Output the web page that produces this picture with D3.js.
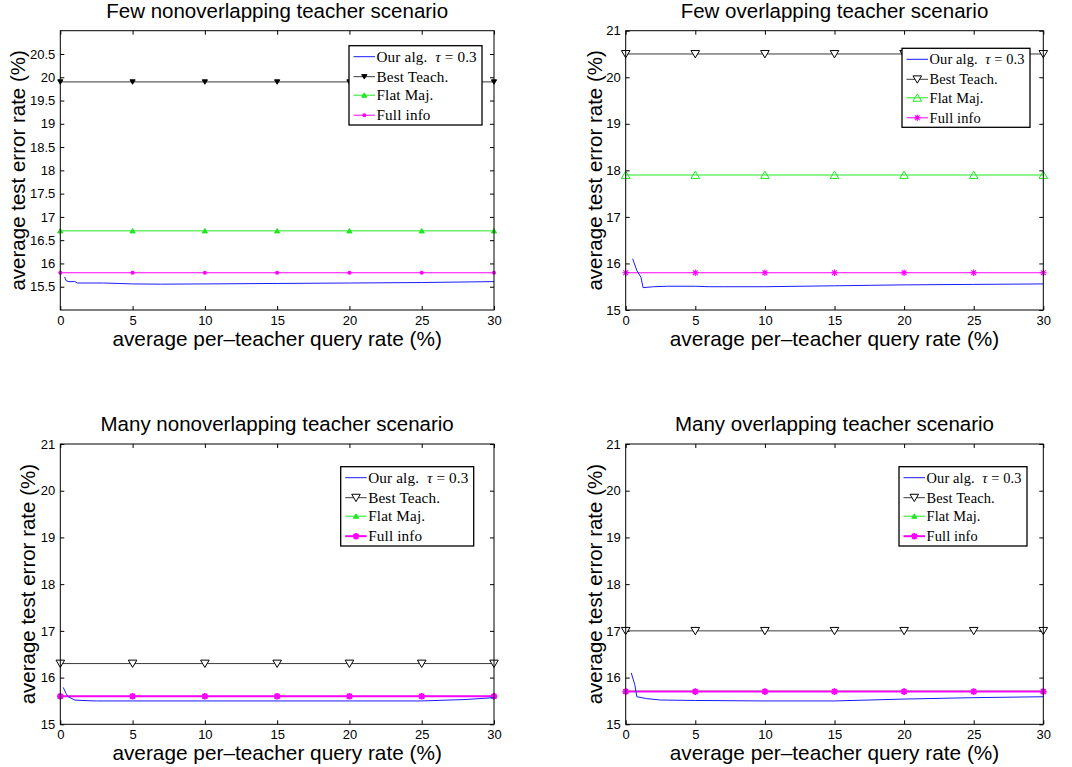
<!DOCTYPE html>
<html>
<head>
<meta charset="utf-8">
<script src="https://cdn.jsdelivr.net/npm/d3@7"></script>
<style>
  body { margin: 0; background: #fff; }
  svg { display: block; }
  .tick text { font-family: "Liberation Sans", Arial, sans-serif; font-size: 13px; fill: #000; }
  .tick line { stroke: #000; }
</style>
</head>
<body>
<div id="chart"></div>
<script>
// Values (4 panels, same axes)
const titles = [
    "Few nonoverlapping teacher scenario",
    "Few overlapping teacher scenario",
    "Many nonoverlapping teacher scenario",
    "Many overlapping teacher scenario"
];
const xTicks = [0, 5, 10, 15, 20, 25, 30];
const markerX = [0, 5, 10, 15, 20, 25, 30];
const yTicksFine = [15.5, 16, 16.5, 17, 17.5, 18, 18.5, 19, 19.5, 20, 20.5];
const yTicksCoarse = [15, 16, 17, 18, 19, 20, 21];
const legendLabels = ["Our alg.", "Best Teach.", "Flat Maj.", "Full info"];

// horizontal baselines (one value per panel)
const bestTeach = [19.9, 20.5, 16.3, 17.0];
const flatMaj   = [16.7, 17.9, 15.6, 15.71];
const fullInfo  = [15.8, 15.8, 15.6, 15.7];

// our algorithm curves
const ourX1 = [0.3, 0.4, 0.6, 1.0, 1.2, 2, 3, 4, 5, 7, 10, 15, 20, 25, 30];
const ourY1 = [15.71, 15.63, 15.61, 15.61, 15.58, 15.58, 15.58, 15.57, 15.56, 15.555, 15.56, 15.57, 15.58, 15.59, 15.61];
const ourX2 = [0.5, 0.8, 1.0, 1.1, 1.25, 2, 3, 5, 6, 7, 10, 15, 20, 25, 30];
const ourY2 = [16.1, 15.85, 15.75, 15.7, 15.48, 15.5, 15.51, 15.51, 15.5, 15.5, 15.5, 15.52, 15.54, 15.55, 15.56];
const ourX3 = [0.2, 0.4, 0.55, 0.8, 1.0, 1.5, 2.5, 5, 10, 15, 20, 25, 28, 30];
const ourY3 = [15.79, 15.66, 15.59, 15.55, 15.52, 15.51, 15.5, 15.5, 15.5, 15.5, 15.5, 15.5, 15.53, 15.57];
const ourX4 = [0.4, 0.65, 0.8, 1.5, 2.5, 5, 10, 15, 20, 25, 30];
const ourY4 = [16.1, 15.85, 15.59, 15.55, 15.52, 15.51, 15.5, 15.5, 15.54, 15.57, 15.59];

const ourX = [ourX1, ourX2, ourX3, ourX4];
const ourY = [ourY1, ourY2, ourY3, ourY4];

// Layout of each panel (pixels)
const panels = [
    {l: 60.3,  r: 494,    t: 30.7, b: 310,   yTicks: yTicksFine,   ylab: 35, legFont: 15.2, leg: {x: 349,   y: 45.7, w: 133, h: 79.3}, style: "small"},
    {l: 625.7, r: 1043.3, t: 30.7, b: 310,   yTicks: yTicksCoarse, ylab: 24, legFont: 14.4, leg: {x: 902,   y: 48.3, w: 128, h: 79},   style: "open"},
    {l: 60.3,  r: 494,    t: 444,  b: 724.3, yTicks: yTicksCoarse, ylab: 25, legFont: 15.2, leg: {x: 340.7, y: 466.7, w: 133, h: 79.3}, style: "mixed"},
    {l: 625.7, r: 1043.3, t: 444,  b: 724.3, yTicks: yTicksCoarse, ylab: 24, legFont: 14.4, leg: {x: 899,   y: 466.7, w: 128, h: 79.3}, style: "mixed"}
];

const colBlue = "#1a1aff", colBest = "#3a3a3a", colBestMk = "#000", colGreen = "#22e622", colMag = "#ff00ff";

const svg = d3.select("#chart").append("svg")
    .attr("width", 1072)
    .attr("height", 767);

// draws one marker at (0,0) inside group g
function drawMarker(g, kind, color) {
    if (kind === "downFilled" || kind === "downOpen") {
        const s = kind === "downFilled" ? 2.6 : 4.3;
        g.append("path")
            .attr("d", `M${-s},${-s * 0.8}L${s},${-s * 0.8}L0,${s * 0.9}Z`)
            .attr("fill", kind === "downFilled" ? color : "#fff")
            .attr("stroke", color).attr("stroke-width", 1);
    } else if (kind === "upFilled" || kind === "upOpen") {
        const s = kind === "upFilled" ? 2.6 : 4.3;
        g.append("path")
            .attr("d", `M${-s},${s * 0.8}L${s},${s * 0.8}L0,${-s * 0.9}Z`)
            .attr("fill", kind === "upFilled" ? color : "none")
            .attr("stroke", color).attr("stroke-width", 1);
    } else if (kind === "dot") {
        g.append("circle").attr("r", 2).attr("fill", color);
    } else if (kind === "star" || kind === "starBold") {
        const s = 3.3, d = s * 0.72;
        g.append("path")
            .attr("d", `M${-s},0L${s},0M0,${-s}L0,${s}M${-d},${-d}L${d},${d}M${-d},${d}L${d},${-d}`)
            .attr("stroke", color)
            .attr("stroke-width", kind === "starBold" ? 1.8 : 1.1)
            .attr("fill", "none");
    }
}

const markerStyles = {
    small: {best: "downFilled", flat: "upFilled", full: "dot",      fullWidth: 1},
    open:  {best: "downOpen",   flat: "upOpen",   full: "star",     fullWidth: 1},
    mixed: {best: "downOpen",   flat: "upFilled", full: "starBold", fullWidth: 2}
};

panels.forEach((p, i) => {
    const x = d3.scaleLinear().domain([0, 30]).range([p.l, p.r]);
    const y = d3.scaleLinear().domain([15, 21]).range([p.b, p.t]);
    const ms = markerStyles[p.style];
    const g = svg.append("g");

    // ticks, inward on all four sides
    g.append("g").attr("transform", `translate(0,${p.b})`)
        .call(d3.axisBottom(x).tickValues(xTicks).tickSize(-4).tickPadding(5.5))
        .call(a => a.select(".domain").remove());
    g.append("g").attr("transform", `translate(0,${p.t})`)
        .call(d3.axisTop(x).tickValues(xTicks).tickSize(-4).tickFormat(""))
        .call(a => a.select(".domain").remove());
    g.append("g").attr("transform", `translate(${p.l},0)`)
        .call(d3.axisLeft(y).tickValues(p.yTicks).tickSize(-4).tickPadding(5).tickFormat(d3.format("~g")))
        .call(a => a.select(".domain").remove());
    g.append("g").attr("transform", `translate(${p.r},0)`)
        .call(d3.axisRight(y).tickValues(p.yTicks).tickSize(-4).tickFormat(""))
        .call(a => a.select(".domain").remove());

    const line = d3.line().x(d => x(d[0])).y(d => y(d[1]));

    // horizontal reference lines with markers
    const refs = [
        {v: bestTeach[i], c: colBest,  mc: colBestMk, m: ms.best, w: 1},
        {v: flatMaj[i],   c: colGreen, mc: colGreen,  m: ms.flat, w: 1},
        {v: fullInfo[i],  c: colMag,   mc: colMag,    m: ms.full, w: ms.fullWidth}
    ];
    refs.forEach(r => {
        g.append("path")
            .datum(markerX.map(mx => [mx, r.v]))
            .attr("d", line)
            .attr("fill", "none")
            .attr("stroke", r.c)
            .attr("stroke-width", r.w);
        markerX.forEach(mx => {
            const mg = g.append("g").attr("transform", `translate(${x(mx)},${y(r.v)})`);
            drawMarker(mg, r.m, r.mc);
        });
    });

    // our algorithm
    g.append("path")
        .datum(ourX[i].map((v, k) => [v, ourY[i][k]]))
        .attr("d", line)
        .attr("fill", "none")
        .attr("stroke", colBlue)
        .attr("stroke-width", 1);

    // box
    g.append("rect")
        .attr("x", p.l).attr("y", p.t)
        .attr("width", p.r - p.l).attr("height", p.b - p.t)
        .attr("fill", "none").attr("stroke", "#000").attr("stroke-width", 1);

    // title and axis labels
    g.append("text")
        .attr("x", (p.l + p.r) / 2).attr("y", p.t - 13)
        .attr("text-anchor", "middle")
        .style("font-family", "Liberation Sans, Arial, sans-serif")
        .style("font-size", "20.5px")
        .text(titles[i]);
    g.append("text")
        .attr("x", (p.l + p.r) / 2).attr("y", p.b + 35.5)
        .attr("text-anchor", "middle")
        .style("font-family", "Liberation Sans, Arial, sans-serif")
        .style("font-size", "20.8px")
        .text("average per\u2013teacher query rate (%)");
    g.append("text")
        .attr("transform", `translate(${p.l - p.ylab},${(p.t + p.b) / 2}) rotate(-90)`)
        .attr("text-anchor", "middle")
        .style("font-family", "Liberation Sans, Arial, sans-serif")
        .style("font-size", "20.5px")
        .text("average test error rate (%)");

    // legend
    const L = p.leg;
    const lg = g.append("g").attr("transform", `translate(${L.x},${L.y})`);
    lg.append("rect")
        .attr("width", L.w).attr("height", L.h)
        .attr("fill", "#fff").attr("stroke", "#000").attr("stroke-width", 1.3);
    const rowY = [11, 31, 49.5, 69.5];
    const legItems = [
        {c: colBlue,  mc: colBlue,   m: null,    w: 1},
        {c: colBest,  mc: colBestMk, m: ms.best, w: 1},
        {c: colGreen, mc: colGreen,  m: ms.flat, w: 1},
        {c: colMag,   mc: colMag,    m: ms.full, w: ms.fullWidth}
    ];
    legItems.forEach((it, k) => {
        lg.append("line")
            .attr("x1", 4.5).attr("x2", 26)
            .attr("y1", rowY[k]).attr("y2", rowY[k])
            .attr("stroke", it.c).attr("stroke-width", it.w);
        if (it.m) {
            const mg = lg.append("g").attr("transform", `translate(15.3,${rowY[k]})`);
            drawMarker(mg, it.m, it.mc);
        }
        const t = lg.append("text")
            .attr("x", 27.5).attr("y", rowY[k] + 5)
            .style("font-family", "Liberation Serif, Times New Roman, serif")
            .style("font-size", p.legFont + "px")
            .style("letter-spacing", "0.15px")
            .attr("fill", "#000");
        if (k === 0) {
            t.append("tspan").text(legendLabels[0] + "\u2002");
            t.append("tspan").style("font-style", "italic").text("\u03c4");
            t.append("tspan").text(" = 0.3");
        } else {
            t.text(legendLabels[k]);
        }
    });
});
</script>
</body>
</html>
